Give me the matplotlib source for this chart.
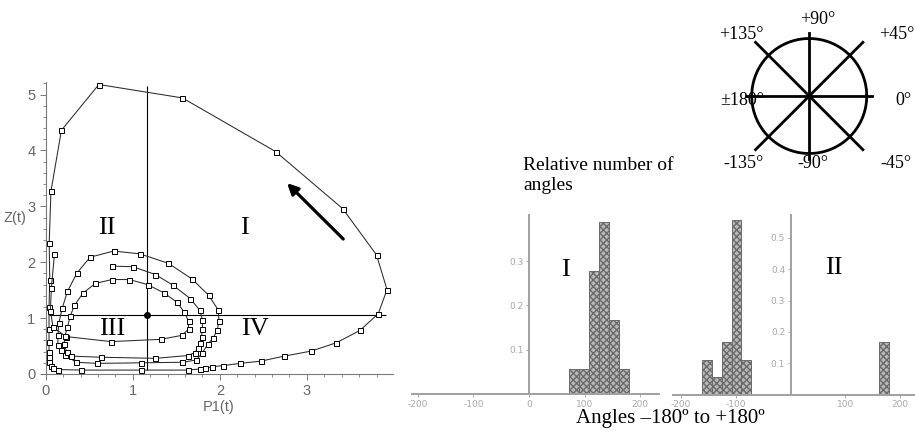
import numpy as np
import matplotlib
matplotlib.use("Agg")
import matplotlib.pyplot as plt
from matplotlib.ticker import MultipleLocator

# phase trajectory P1(t), Z(t)
inner_p1 = [0.10, 0.065, 0.053, 0.084, 0.23, 0.75, 1.32, 1.56, 1.64, 1.64, 1.59, 1.51, 1.36,
            1.17, 0.96, 0.76, 0.57, 0.43, 0.33, 0.28, 0.25, 0.22, 0.21, 0.24, 0.29, 0.63,
            1.26, 1.63, 1.71, 1.75, 1.77, 1.79, 1.80, 1.80, 1.77, 1.66, 1.46, 1.26, 1.00, 0.76]
inner_z = [2.14, 1.54, 1.13, 0.84, 0.67, 0.58, 0.62, 0.69, 0.80, 0.95, 1.11, 1.28, 1.45,
           1.60, 1.69, 1.69, 1.62, 1.45, 1.23, 1.03, 0.84, 0.68, 0.53, 0.40, 0.32, 0.30,
           0.28, 0.33, 0.38, 0.46, 0.56, 0.67, 0.80, 0.97, 1.14, 1.35, 1.59, 1.78, 1.92, 1.93]

loop_p1 = [0.78, 0.51, 0.36, 0.25, 0.19, 0.15, 0.14, 0.14, 0.17, 0.22, 0.35, 0.59, 1.10,
           1.57, 1.73, 1.80, 1.86, 1.92, 1.97, 1.99, 1.98, 1.87, 1.68, 1.41, 1.08, 0.78]
loop_z = [2.20, 2.09, 1.81, 1.48, 1.18, 0.91, 0.70, 0.52, 0.43, 0.34, 0.21, 0.19, 0.20,
          0.21, 0.25, 0.38, 0.53, 0.64, 0.78, 0.955, 1.15, 1.41, 1.70, 1.98, 2.15, 2.20]

outer_p1 = [0.14, 0.41, 1.10, 1.63, 1.77, 1.83, 1.91, 2.04, 2.23, 2.47, 2.74, 3.05, 3.34,
            3.61, 3.82, 3.92, 3.80, 3.41, 2.64, 1.57, 0.61, 0.18, 0.06, 0.04, 0.046, 0.038,
            0.038, 0.038, 0.038, 0.038, 0.04, 0.065, 0.084, 0.14]
outer_z = [0.08, 0.07, 0.07, 0.07, 0.09, 0.10, 0.13, 0.15, 0.19, 0.23, 0.32, 0.41, 0.56,
           0.78, 1.08, 1.51, 2.13, 2.96, 3.98, 4.94, 5.18, 4.36, 3.27, 2.35, 1.68, 1.20,
           0.80, 0.58, 0.40, 0.30, 0.21, 0.14, 0.10, 0.08]

eq_p1, eq_z = 1.165, 1.06

# angle histograms (bin left edges, width 18 deg)
bin_w = 18
angles_I = [72, 90, 108, 126, 144, 162]
rel_I = [0.056, 0.056, 0.278, 0.389, 0.167, 0.056]
angles_II = [-162, -144, -126, -108, -90, 162]
rel_II = [0.111, 0.056, 0.167, 0.556, 0.111, 0.167]

compass_deg = [90, 135, 45, 180, 0, -135, -90, -45]
compass_lbl = ["+90°", "+135°", "+45°", "±180°", "0°", "-135°", "-90°", "-45°"]

serif = "Liberation Serif"
sans = "Liberation Sans"
axgray = "#7a7a7a"

fig = plt.figure(figsize=(9.15, 4.36), dpi=100)
fig.patch.set_facecolor("white")

# ---------------- phase plot ----------------
ax = fig.add_axes([0.0456, 0.1358, 0.384, 0.6768])
ax.set_xlim(-0.046, 3.99)
ax.set_ylim(-0.05, 5.23)
for s in ["top", "right"]:
    ax.spines[s].set_visible(False)
ax.spines["left"].set_position(("data", 0))
ax.spines["bottom"].set_position(("data", 0))
for s in ["left", "bottom"]:
    ax.spines[s].set_color(axgray)
    ax.spines[s].set_linewidth(0.8)
ax.xaxis.set_major_locator(MultipleLocator(1))
ax.xaxis.set_minor_locator(MultipleLocator(0.2))
ax.yaxis.set_major_locator(MultipleLocator(1))
ax.yaxis.set_minor_locator(MultipleLocator(0.2))
ax.tick_params(which="major", length=4, width=0.7, color=axgray, labelcolor="#666666",
               labelsize=10.5, direction="out")
ax.tick_params(which="minor", length=2, width=0.6, color=axgray, direction="out")
for lab in ax.get_xticklabels() + ax.get_yticklabels():
    lab.set_family(sans)
ax.set_xlabel("P1(t)", family=sans, fontsize=10.5, color="#666666")
ax.xaxis.set_label_coords(0.503, -0.079)
ax.set_ylabel("Z(t)", family=sans, fontsize=10.5, color="#666666", rotation=0)
ax.yaxis.set_label_coords(-0.076, 0.514)

ax.vlines(eq_p1, 0.07, 5.15, color="black", lw=0.8)
ax.hlines(eq_z, 0.04, 3.91, color="black", lw=0.8)

mk = dict(marker="s", ms=3.6, mfc="white", mec="black", mew=0.7, color="#2a2a2a", lw=0.75)
ax.plot(outer_p1, outer_z, **mk)
ax.plot(loop_p1, loop_z, **mk)
ax.plot(inner_p1, inner_z, **mk)
ax.plot(eq_p1, eq_z, "o", color="black", ms=4)

ax.annotate("", xy=(2.75, 3.45), xytext=(3.44, 2.38),
            arrowprops=dict(arrowstyle="-|>", lw=2.3, color="black", mutation_scale=16))

for txt, px, pz in [("II", 0.70, 2.61), ("I", 2.28, 2.61), ("III", 0.76, 0.81), ("IV", 2.40, 0.81)]:
    ax.text(px, pz, txt, family=serif, fontsize=19, ha="center", va="center")

# ---------------- histograms ----------------
def hist_axes(rect, xlim, ylim, xt, yt):
    h = fig.add_axes(rect)
    h.set_xlim(*xlim)
    h.set_ylim(*ylim)
    for s in ["top", "right"]:
        h.spines[s].set_visible(False)
    for s in ["left", "bottom"]:
        h.spines[s].set_position(("data", 0))
        h.spines[s].set_linestyle((0, (1, 1)))
        h.spines[s].set_color("#a0a0a0")
        h.spines[s].set_linewidth(1.4)
    h.set_xticks(xt)
    h.set_xticklabels([str(v) for v in xt])
    h.set_yticks(yt)
    h.set_yticklabels([f"{v:g}" for v in yt])
    h.tick_params(length=2, width=0.6, color="#a0a0a0", labelsize=6.5,
                  labelcolor="#a8a8a8", pad=2)
    h.patch.set_alpha(0)
    return h

h1 = hist_axes([0.450, 0.0963, 0.2713, 0.4106], (-211, 235.6), (0, 0.404),
               [-200, -100, 0, 100, 200], [0.1, 0.2, 0.3])
h1.bar(angles_I, rel_I, width=bin_w, align="edge", color="#b8b8b8",
       edgecolor="#6a6a6a", lw=0.7, hatch="xxxxx")
h1.text(65, 0.28, "I", family=serif, fontsize=19, ha="center", va="center")

h2 = hist_axes([0.7358, 0.0951, 0.2642, 0.4117], (-214.6, 227), (0, 0.573),
               [-200, -100, 100, 200], [0.1, 0.2, 0.3, 0.4, 0.5])
h2.bar(angles_II, rel_II, width=bin_w, align="edge", color="#b8b8b8",
       edgecolor="#6a6a6a", lw=0.7, hatch="xxxxx")
h2.text(78, 0.403, "II", family=serif, fontsize=19, ha="center", va="center")

fig.text(523 / 915, 1 - 170 / 436, "Relative number of", family=serif, fontsize=14, va="baseline")
fig.text(523 / 915, 1 - 190 / 436, "angles", family=serif, fontsize=14, va="baseline")
fig.text(670 / 915, 1 - 418 / 436, "Angles \u2013180\u00ba to +180\u00ba", family=serif,
         fontsize=15, ha="center", va="center")

# ---------------- compass ----------------
cx = fig.add_axes([0.765, 0.582, 0.2388, 0.3956])
cx.set_xlim(-1.9, 1.9)
cx.set_ylim(-1.5, 1.5)
cx.axis("off")
t = np.linspace(0, 2 * np.pi, 200)
cx.plot(np.cos(t), np.sin(t), color="black", lw=2)
for d in [0, 45, 90, 135]:
    r = 1.1 if d % 90 == 0 else 1.32
    a = np.deg2rad(d)
    cx.plot([-r * np.cos(a), r * np.cos(a)], [-r * np.sin(a), r * np.sin(a)], color="black", lw=2)
lbl_pos = {90: (0.15, 1.33), 135: (-1.18, 1.07), 45: (1.53, 1.07), 180: (-1.16, -0.07),
           0: (1.63, -0.07), -135: (-1.15, -1.17), -90: (0.06, -1.17), -45: (1.50, -1.17)}
for d, lbl in zip(compass_deg, compass_lbl):
    x, y = lbl_pos[d]
    cx.text(x, y, lbl, family=serif, fontsize=13, ha="center", va="center", clip_on=False)

fig.savefig("out.png", dpi=100)
